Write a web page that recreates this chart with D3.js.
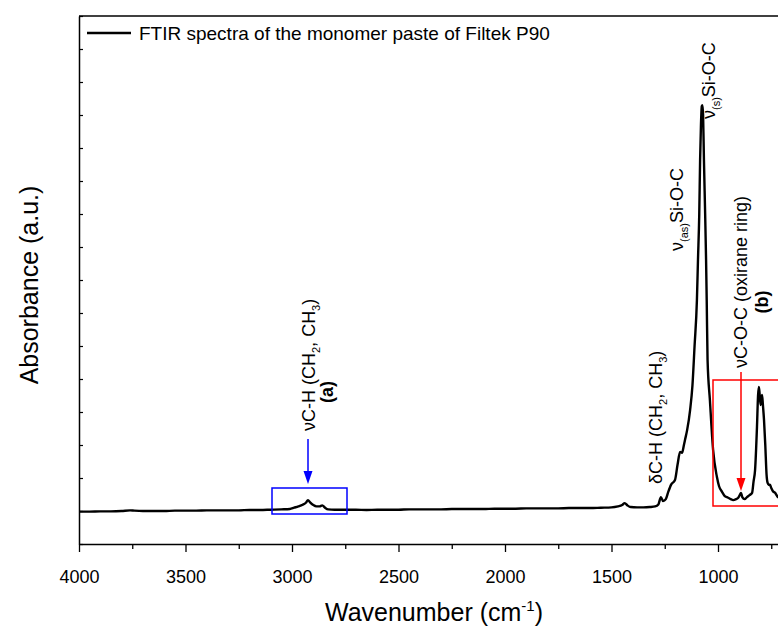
<!DOCTYPE html>
<html>
<head>
<meta charset="utf-8">
<script src="https://cdn.jsdelivr.net/npm/d3@7"></script>
<style>
  body { margin: 0; background: #fff; }
  svg text { font-family: Arial, "Liberation Sans", sans-serif; fill: #000; }
</style>
</head>
<body>
<svg id="chart" width="778" height="628"></svg>
<script>
// data: wavenumber (cm-1) and absorbance (a.u.)
var wavenumbers = [4000, 3950, 3900, 3850, 3800, 3760, 3740, 3700, 3650, 3600, 3550, 3500, 3450, 3400, 3350, 3300, 3250, 3200, 3150, 3100,
    3050, 3010, 2990, 2970, 2950, 2935, 2925, 2915, 2900, 2885, 2870, 2858, 2845, 2830, 2800, 2750, 2700, 2650, 2600, 2550,
    2500, 2450, 2400, 2350, 2300, 2250, 2200, 2150, 2100, 2050, 2000, 1950, 1900, 1850, 1800, 1750, 1700, 1650, 1600, 1550,
    1500, 1470, 1450, 1438, 1425, 1410, 1380, 1350, 1320, 1295, 1280, 1268, 1258, 1245, 1235, 1220, 1202, 1190, 1178, 1169,
    1160, 1155, 1145, 1131, 1120, 1110, 1099, 1094, 1088, 1084, 1080, 1076, 1073, 1070, 1066, 1060, 1056, 1053, 1049, 1038,
    1023, 1005, 995, 981, 968, 958, 940, 929, 915, 905, 898, 892, 886, 875, 864, 852, 840, 833, 826, 817,
    812, 808, 804, 800, 796, 793, 789, 784, 778, 772, 767, 762, 756, 750, 742, 732, 725, 718, 705, 690];
var absorbance = [0.098, 0.098, 0.099, 0.099, 0.100, 0.102, 0.101, 0.100, 0.100, 0.100, 0.101, 0.101, 0.101, 0.102, 0.102, 0.102, 0.102, 0.103, 0.103, 0.104,
    0.105, 0.106, 0.110, 0.114, 0.119, 0.125, 0.133, 0.126, 0.118, 0.114, 0.114, 0.117, 0.110, 0.105, 0.104, 0.104, 0.104, 0.103, 0.104, 0.104,
    0.104, 0.105, 0.105, 0.105, 0.105, 0.106, 0.106, 0.106, 0.106, 0.107, 0.107, 0.107, 0.108, 0.108, 0.108, 0.108, 0.109, 0.109, 0.109, 0.110,
    0.111, 0.114, 0.118, 0.124, 0.117, 0.112, 0.111, 0.111, 0.112, 0.114, 0.120, 0.142, 0.130, 0.136, 0.155, 0.180, 0.194, 0.240, 0.279, 0.276,
    0.300, 0.315, 0.345, 0.406, 0.480, 0.600, 0.739, 0.861, 1.000, 1.164, 1.270, 1.327, 1.330, 1.300, 1.164, 0.990, 0.861, 0.739, 0.558, 0.436,
    0.285, 0.203, 0.175, 0.158, 0.145, 0.142, 0.136, 0.133, 0.136, 0.140, 0.148, 0.155, 0.142, 0.136, 0.142, 0.148, 0.155, 0.190, 0.224, 0.355,
    0.450, 0.476, 0.450, 0.421, 0.440, 0.452, 0.420, 0.376, 0.300, 0.210, 0.185, 0.180, 0.179, 0.170, 0.160, 0.155, 0.148, 0.142, 0.140, 0.138];

var xMajorTicks = [4000, 3500, 3000, 2500, 2000, 1500, 1000];
var xMinorTicks = [3750, 3250, 2750, 2250, 1750, 1250, 750];
var yTicks = d3.range(0, 1.61, 0.1);

var legendLabel = 'FTIR spectra of the monomer paste of Filtek P90';

var svg = d3.select('#chart');
var margin = { left: 79, top: 16, bottom: 544 };
var pxPerUnit = 0.213;

var x = d3.scaleLinear()
    .domain([4000, 400])
    .range([margin.left, margin.left + 3600 * pxPerUnit]);
var y = d3.scaleLinear()
    .domain([0, 1.6])
    .range([margin.bottom, margin.top]);

var data = wavenumbers.map(function(w, i) { return { w: w, a: absorbance[i] }; });

// clip
svg.append('clipPath').attr('id', 'plot-clip')
    .append('rect')
    .attr('x', margin.left).attr('y', margin.top)
    .attr('width', 778 - margin.left).attr('height', margin.bottom - margin.top);

// spectrum
var line = d3.line()
    .x(function(d) { return x(d.w); })
    .y(function(d) { return y(d.a); })
    .curve(d3.curveMonotoneX);

svg.append('path')
    .datum(data)
    .attr('clip-path', 'url(#plot-clip)')
    .attr('fill', 'none')
    .attr('stroke', '#000')
    .attr('stroke-width', 2.4)
    .attr('stroke-linejoin', 'round')
    .attr('d', line);

// x axis
var xAxis = svg.append('g')
    .attr('transform', 'translate(0,' + margin.bottom + ')')
    .call(d3.axisBottom(x).tickValues(xMajorTicks).tickFormat(d3.format('d'))
        .tickSize(8).tickPadding(18).tickSizeOuter(0));
xAxis.select('.domain').attr('stroke-width', 1.5);
xAxis.selectAll('.tick line').attr('stroke-width', 1.3);
xAxis.selectAll('text').attr('font-size', '18px').style('font-family', 'Arial, "Liberation Sans", sans-serif');

svg.append('g')
    .attr('transform', 'translate(0,' + margin.bottom + ')')
    .call(d3.axisBottom(x).tickValues(xMinorTicks).tickSize(5).tickFormat('').tickSizeOuter(0))
    .call(function(g) { g.select('.domain').remove(); })
    .selectAll('.tick line').attr('stroke-width', 1.3);

// y axis, inner ticks only
var yAxis = svg.append('g')
    .attr('transform', 'translate(' + margin.left + ',0)')
    .call(d3.axisLeft(y).tickValues(yTicks).tickSize(-4).tickFormat('').tickSizeOuter(0));
yAxis.select('.domain').attr('stroke-width', 1.5);
yAxis.selectAll('.tick line').attr('stroke-width', 1.2);

// top frame
svg.append('line')
    .attr('x1', margin.left).attr('x2', 778)
    .attr('y1', margin.top).attr('y2', margin.top)
    .attr('stroke', '#000').attr('stroke-width', 1.5);

// legend
svg.append('line')
    .attr('x1', 87).attr('x2', 131).attr('y1', 33).attr('y2', 33)
    .attr('stroke', '#000').attr('stroke-width', 2.5);
svg.append('text')
    .attr('x', 139).attr('y', 40)
    .attr('font-size', '19px')
    .text(legendLabel);

// axis titles
var xTitle = svg.append('text')
    .attr('x', 434).attr('y', 621)
    .attr('text-anchor', 'middle')
    .attr('font-size', '25px');
xTitle.append('tspan').text('Wavenumber (cm');
xTitle.append('tspan').attr('dy', -10).attr('font-size', '15px').text('-1');
xTitle.append('tspan').attr('dy', 10).text(')');

svg.append('text')
    .attr('transform', 'translate(38,285) rotate(-90)')
    .attr('text-anchor', 'middle')
    .attr('font-size', '25px')
    .text('Absorbance (a.u.)');

// rotated annotation helper: parts = [[text, 'sub'|null], ...]
var vlabel = function(px, py, parts, opts) {
    opts = opts || {};
    var t = svg.append('text')
        .attr('transform', 'translate(' + px + ',' + py + ') rotate(-90)')
        .attr('text-anchor', opts.anchor || 'start')
        .attr('font-size', '18px')
        .attr('font-weight', opts.bold ? 'bold' : 'normal');
    var shifted = false;
    parts.forEach(function(p) {
        var ts = t.append('tspan').text(p[0]);
        if (p[1] === 'sub' && !shifted) { ts.attr('dy', 5).attr('font-size', '11px'); shifted = true; }
        else if (p[1] !== 'sub' && shifted) { ts.attr('dy', -5); shifted = false; }
        else if (p[1] === 'sub') ts.attr('font-size', '11px');
    });
    return t;
};

vlabel(715, 119, [['\u03bd'], ['(s)', 'sub'], ['Si-O-C']]);
vlabel(683, 251, [['\u03bd'], ['(as)', 'sub'], ['Si-O-C']]);
vlabel(662, 484, [['\u03b4C-H (CH'], ['2', 'sub'], [', CH'], ['3', 'sub'], [')']]);
vlabel(747, 368, [['\u03bdC-O-C (oxirane ring)']]);
vlabel(768, 302, [['(b)']], { bold: true, anchor: 'middle' });
vlabel(315, 431, [['\u03bdC-H (CH'], ['2', 'sub'], [', CH'], ['3', 'sub'], [')']]);
vlabel(333, 392, [['(a)']], { bold: true, anchor: 'middle' });

// highlight boxes
svg.append('rect')
    .attr('x', 272).attr('y', 488).attr('width', 75).attr('height', 26)
    .attr('fill', 'none').attr('stroke', '#0000ff').attr('stroke-width', 1.5);
svg.append('rect')
    .attr('x', 713).attr('y', 380).attr('width', 80).attr('height', 126)
    .attr('fill', 'none').attr('stroke', '#ff0000').attr('stroke-width', 1.5);

// arrows
var arrow = function(ax, y1, y2, color) {
    svg.append('line')
        .attr('x1', ax).attr('x2', ax).attr('y1', y1).attr('y2', y2 - 10)
        .attr('stroke', color).attr('stroke-width', 1.5);
    svg.append('path')
        .attr('d', 'M' + (ax - 4.5) + ',' + (y2 - 13) + 'L' + (ax + 4.5) + ',' + (y2 - 13) + 'L' + ax + ',' + y2 + 'Z')
        .attr('fill', color);
};
arrow(308, 439, 484, '#0000ff');
arrow(741, 372, 491, '#ff0000');
</script>
</body>
</html>
